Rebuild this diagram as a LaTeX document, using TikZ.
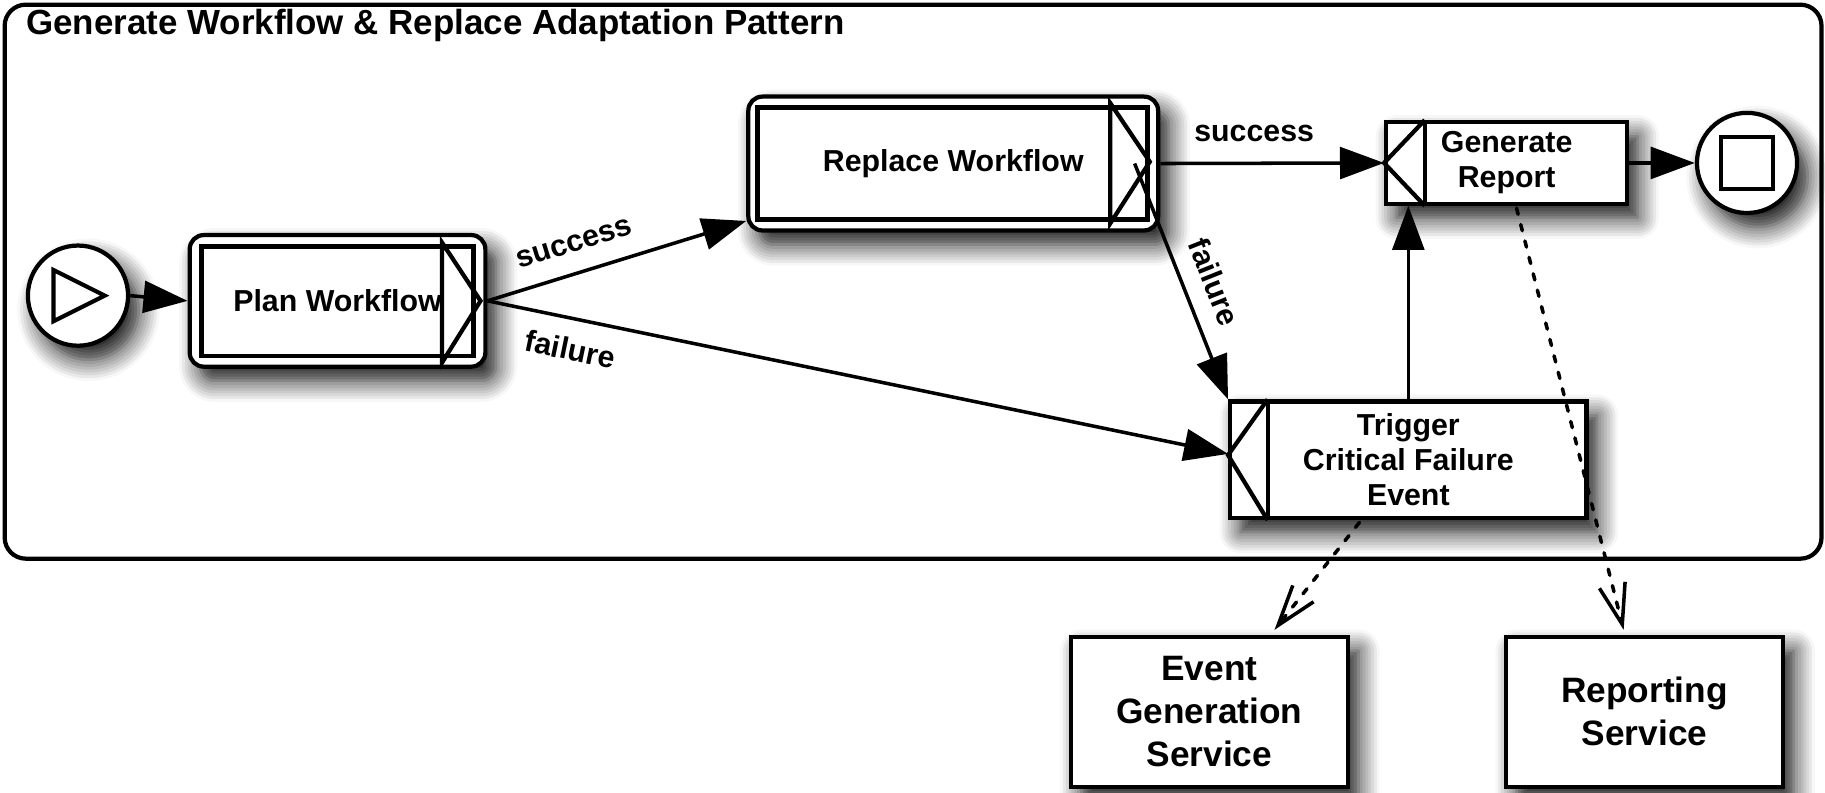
\documentclass[tikz,border=0pt]{standalone}
\usepackage{fontspec}
\setmainfont{Liberation Sans}
\usetikzlibrary{arrows.meta,shadows.blur}

\begin{document}
\begin{tikzpicture}[x=0.0116cm,y=-0.0116cm,
  soft/.style={blur shadow={shadow xshift=3pt,shadow yshift=-4pt,shadow blur radius=6pt,shadow blur steps=8,shadow opacity=95}},
  bpmntask/.style={draw,line width=1.2pt,fill=white,soft,inner sep=0pt,align=center,font=\bfseries\fontsize{8.6}{9.9}\selectfont},
  bpmnevent/.style={draw,circle,line width=1.2pt,fill=white,soft,minimum size=0.998cm,inner sep=0pt},
  svcbox/.style={draw,line width=1.2pt,fill=white,soft,minimum width=2.761cm,minimum height=1.496cm,inner sep=0pt,align=center,font=\bfseries\fontsize{10}{12.2}\selectfont},
  flow/.style={line width=1pt,-{Triangle[length=12.5pt,width=9pt]}},
  assoc/.style={line width=1pt,line cap=round,dash pattern=on 1.8pt off 3pt,-{Straight Barb[length=11.5pt,width=7.5pt,line cap=butt]}},
  lbl/.style={font=\bfseries\fontsize{8.6}{10.3}\selectfont,sloped,inner sep=2pt},
  marker/.style={line width=1.2pt,line join=miter}]
\useasboundingbox (0,0) rectangle (1568,681);

% pool
\draw [line width=1.2pt,rounded corners=6pt] (4,4) rectangle (1565,480);
\node [anchor=base west,inner sep=0pt,font=\bfseries\fontsize{9.9}{12}\selectfont] (title) at (22,30) {Generate Workflow \& Replace Adaptation Pattern};

% start and end events
\node [bpmnevent] (start) at (67,254) {};
\draw [marker] ([shift={(-21,-22)}]start.center) -- ([shift={(23,0)}]start.center) -- ([shift={(-21,22)}]start.center) -- cycle;
\node [bpmnevent] (stop) at (1501,140) {};
\node [draw,line width=1.2pt,minimum size=0.52cm,inner sep=0pt] (stopsq) at (stop) {};

% sub-processes
\node [bpmntask,rounded corners=4pt,minimum width=2.946cm,minimum height=1.311cm] (plan) at (290,258.5) {Plan Workflow};
\draw [line width=1.4pt] ([shift={(12,12)}]plan.north west) rectangle ([shift={(-12,-11)}]plan.south east);
\draw [marker] ([shift={(-39,-50)}]plan.east) -- ([shift={(-6,0)}]plan.east) -- ([shift={(-39,53)}]plan.east) -- cycle;

\node [bpmntask,rounded corners=4pt,minimum width=4.083cm,minimum height=1.334cm] (replace) at (819,140.5) {Replace Workflow};
\draw [line width=1.4pt] ([shift={(10,11.5)}]replace.north west) rectangle ([shift={(-11,-11.5)}]replace.south east);
\draw [marker] ([shift={(-43,-52)}]replace.east) -- ([shift={(-9,-1.5)}]replace.east) -- ([shift={(-43,51.5)}]replace.east) -- cycle;

% tasks
\node [bpmntask,minimum width=2.401cm,minimum height=0.812cm] (report) at (1294.5,140) {Generate\\Report};
\draw [marker] ([shift={(35,0)}]report.north west) -- ([shift={(35,0)}]report.south west);
\draw [marker] ([shift={(35,0)}]report.north west) -- (report.west) -- ([shift={(35,0)}]report.south west);

\node [bpmntask,minimum width=3.55cm,minimum height=1.16cm] (trigger) at (1210,395) {Trigger\\Critical Failure\\Event};
\draw [marker] ([shift={(34,0)}]trigger.north west) -- ([shift={(34,0)}]trigger.south west);
\draw [marker] ([shift={(34,0)}]trigger.north west) -- ([shift={(0,-4)}]trigger.west) -- ([shift={(34,0)}]trigger.south west);

% services
\node [svcbox] (egs) at (1039,611.5) {Event\\Generation\\Service};
\node [svcbox] (rs) at (1413,611.5) {Reporting\\Service};

% sequence flows
\draw [flow] (start.east) -- (plan.west);
\draw [flow] (plan.east) -- node [lbl,above=3.5pt,pos=0.37] {success} ([shift={(0,-10)}]replace.south west);
\draw [flow] (plan.east) -- node [lbl,below=3pt,pos=0.12] {failure} ([shift={(0,-5)}]trigger.west);
\draw [flow] (replace.east) -- node [lbl,above=3.5pt,pos=0.42] {success} (report.west);
\draw [flow] ([shift={(-22,0)}]replace.east) -- node [lbl,above=3pt,pos=0.55] {failure} (trigger.north west);
\draw [flow] (trigger.north) -- (trigger.north |- report.south);
\draw [flow] (report.east) -- (stop.west);

% associations
\draw [assoc] ([shift={(-42,2)}]trigger.south) -- ([shift={(56,-4)}]egs.north);
\draw [assoc] ([shift={(8.5,2)}]report.south) -- ([shift={(-18,-4)}]rs.north);
\end{tikzpicture}
\end{document}
